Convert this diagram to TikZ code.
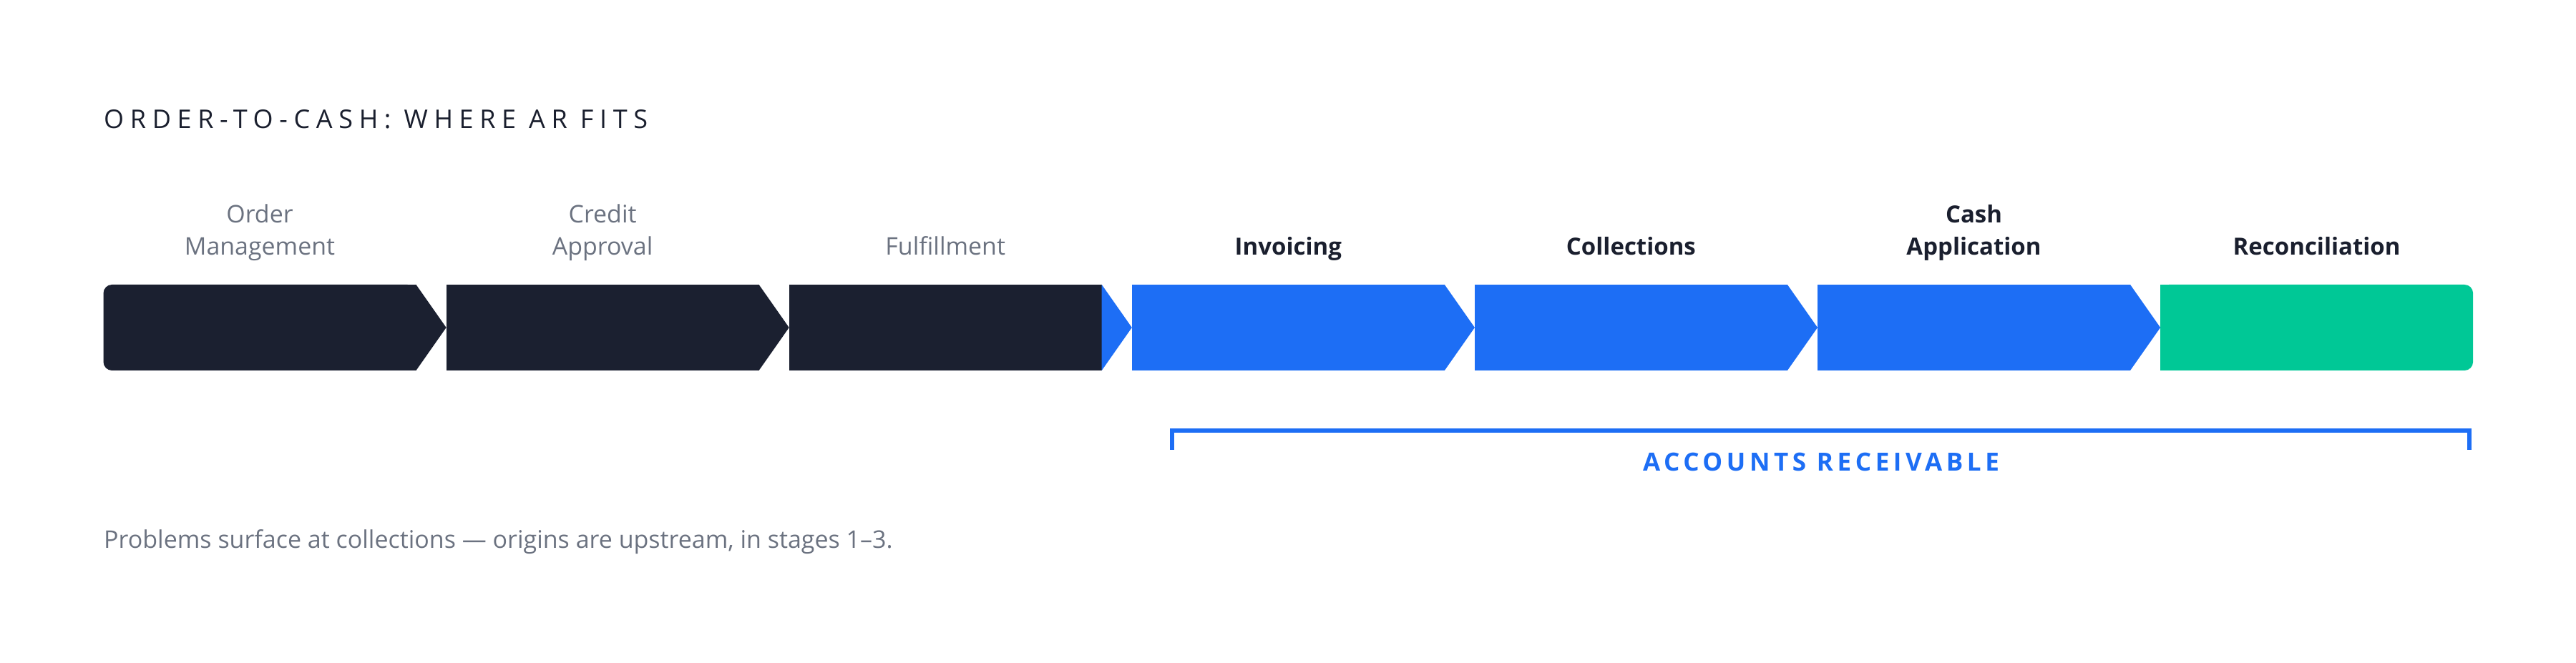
\documentclass[tikz,border=0pt]{standalone}
\usepackage{fontspec}
\setmainfont{Open Sans}
\newfontfamily\titlefont[LetterSpace=24]{Open Sans}
\newfontfamily\arfont[LetterSpace=16]{Open Sans}
\usepackage{xcolor}
\usepackage{tikz}
\usetikzlibrary{positioning}
\definecolor{darkbox}{HTML}{1B2030}
\definecolor{bluebox}{HTML}{1D6EF5}
\definecolor{greenbox}{HTML}{00C896}
\definecolor{graytext}{HTML}{6B7280}
\definecolor{darktext}{HTML}{1A1F2E}
\tikzstyle{stage} = [rectangle, minimum width=4.37cm, minimum height=1.2cm, inner sep=0pt, outer sep=0pt]
\tikzstyle{stagelabel} = [anchor=south, inner sep=0pt, text depth=0pt, align=center, font={\fontsize{9.39pt}{12.65pt}\selectfont}]
\tikzstyle{upstream} = [stagelabel, text=graytext, font={\fontsize{9.65pt}{12.65pt}\selectfont}]
\tikzstyle{arlabel} = [stagelabel, text=darktext, font={\fontsize{9.39pt}{12.65pt}\selectfont\bfseries}]
\tikzstyle{bracket} = [line width=0.06cm, draw=bluebox, line join=miter]

\begin{document}
\begin{tikzpicture}
    \useasboundingbox[fill=white] (0,0) rectangle (36,9.27);
    \node(title)[anchor=base west, inner sep=0pt, text=darktext, font={\fontsize{10.24pt}{12pt}\titlefont}] at (1.445,7.47) {ORDER-TO-CASH: WHERE AR FITS};
    % stages
    \node(s1)[stage, fill=darkbox, rounded corners=1.2mm] at (3.63,4.69) {};
    \node(s2)[stage, fill=darkbox, right=0.421cm of s1] {};
    \node(s3)[stage, fill=darkbox, right=0.421cm of s2] {};
    \node(s4)[stage, fill=bluebox, right=0.421cm of s3] {};
    \node(s5)[stage, fill=bluebox, right=0.421cm of s4] {};
    \node(s6)[stage, fill=bluebox, right=0.421cm of s5] {};
    \node(s7)[stage, fill=greenbox, rounded corners=1.2mm, right=0.421cm of s6] {};
    \fill[darkbox](s1.north) rectangle (s1.south east);
    \fill[greenbox](s7.north west) rectangle (s7.south);
    % chevron tips
    \fill[darkbox](s1.north east) -- (s2.west) -- (s1.south east) -- cycle;
    \fill[darkbox](s2.north east) -- (s3.west) -- (s2.south east) -- cycle;
    \fill[bluebox](s3.north east) -- (s4.west) -- (s3.south east) -- cycle;
    \fill[bluebox](s4.north east) -- (s5.west) -- (s4.south east) -- cycle;
    \fill[bluebox](s5.north east) -- (s6.west) -- (s5.south east) -- cycle;
    \fill[bluebox](s6.north east) -- (s7.west) -- (s6.south east) -- cycle;
    % labels
    \node(l1)[upstream] at ([yshift=4.1mm]s1.north) {Order\\Management};
    \node(l2)[upstream] at ([yshift=4.1mm]s2.north) {Credit\\Approval};
    \node(l3)[upstream] at ([yshift=4.1mm]s3.north) {Fulfillment};
    \node(l4)[arlabel] at ([yshift=4.1mm]s4.north) {Invoicing};
    \node(l5)[arlabel] at ([yshift=4.1mm]s5.north) {Collections};
    \node(l6)[arlabel] at ([yshift=4.1mm]s6.north) {Cash\\Application};
    \node(l7)[arlabel] at ([yshift=4.1mm]s7.north) {Reconciliation};
    % accounts receivable bracket
    \coordinate(arleft) at (16.38,3.25);
    \coordinate(arright) at (34.51,3.25);
    \draw[bracket]([yshift=-0.27cm]arleft) -- (arleft) -- (arright) -- ([yshift=-0.27cm]arright);
    \node(ar)[anchor=base, inner sep=0pt, text=bluebox, font={\fontsize{9.96pt}{12pt}\arfont\bfseries}] at (25.45,2.687) {ACCOUNTS RECEIVABLE};
    \node(note)[anchor=base west, inner sep=0pt, text=graytext, font={\fontsize{9.67pt}{12pt}\selectfont}] at (1.445,1.603) {Problems surface at collections --- origins are upstream, in stages 1--3.};
  \end{tikzpicture}
\end{document}
